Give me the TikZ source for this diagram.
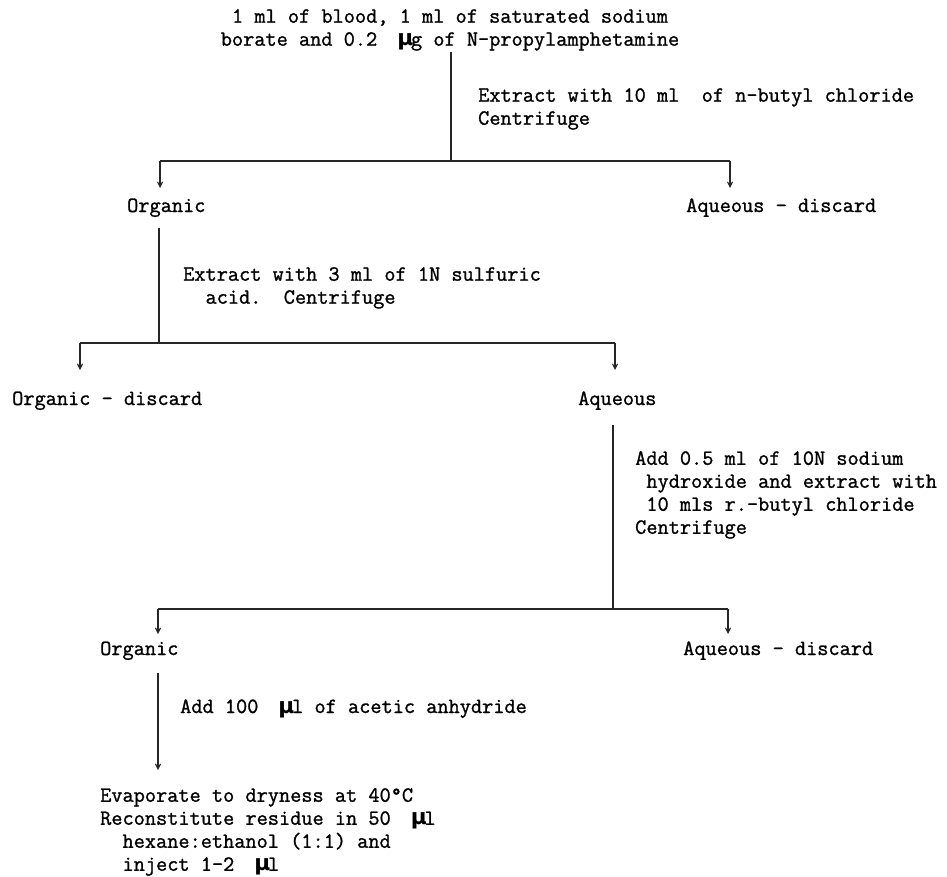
\documentclass[tikz,border=0pt]{standalone}
\usepackage{fontspec}
\setmonofont{Latin Modern Mono}[FakeBold=1.2]
\newfontfamily\mufont{DejaVu Sans}
\usetikzlibrary{arrows.meta}
\newcommand\mumu{\makebox[0.525em]{\mufont\bfseries μ}}
\begin{document}
\begin{tikzpicture}[x=1bp,y=-1bp,
  txt/.style={font=\fontsize{21.7bp}{23bp}\selectfont\ttfamily, inner sep=0pt, align=left},
  ln/.style={line width=1.1bp, black!85},
  arr/.style={ln, -{Straight Barb[length=5bp,width=5bp]}}]
\useasboundingbox (0,0) rectangle (947,877);
% texts
\node[txt, align=center, anchor=north] (top) at (450,9)
  {1 ml of blood, 1 ml of saturated sodium\\borate and 0.2\ \ \mumu g of N-propylamphetamine};
\node[txt, anchor=north west] (ex1) at (478,88)
  {Extract with 10 ml\ \ of n-butyl chloride\\Centrifuge};
\node[txt, anchor=base west] (org1) at (127,212) {Organic};
\node[txt, anchor=base west] (aq1) at (686,212) {Aqueous - discard};
\node[txt, anchor=north west] (ex2) at (183,267)
  {Extract with 3 ml of 1N sulfuric\\\phantom{xx}acid.\ \ Centrifuge};
\node[txt, anchor=base west] (orgd) at (12,405) {Organic - discard};
\node[txt, anchor=base west] (aq2) at (578,405) {Aqueous};
\node[txt, anchor=north west] (ex3) at (635,451)
  {Add 0.5 ml of 10N sodium\\\phantom{x}hydroxide and extract with\\\phantom{x}10 mls r.-butyl chloride\\Centrifuge};
\node[txt, anchor=base west] (org3) at (100,655) {Organic};
\node[txt, anchor=base west] (aq3) at (683,655) {Aqueous - discard};
\node[txt, anchor=base west] (ex4) at (180,713) {Add 100\ \ \mumu l of acetic anhydride};
\node[txt, anchor=north west] (fin) at (100,788)
  {Evaporate to dryness at 40°C\\Reconstitute residue in 50\ \ \mumu l\\\phantom{xx}hexane:ethanol (1:1) and\\\phantom{xx}inject 1-2\ \ \mumu l};
% connector points
\coordinate (v1a) at (451,52);  \coordinate (j1) at (451,161);
\coordinate (h1l) at (160,161); \coordinate (h1r) at (730,161);
\coordinate (t1l) at (160,188); \coordinate (t1r) at (730,188);
\coordinate (v2a) at (159,228); \coordinate (j2) at (159,343);
\coordinate (h2l) at (80,343);  \coordinate (h2r) at (615,343);
\coordinate (t2l) at (80,370);  \coordinate (t2r) at (615,370);
\coordinate (v3a) at (613,425); \coordinate (j3) at (613,609);
\coordinate (h3l) at (158,609); \coordinate (h3r) at (728,609);
\coordinate (t3l) at (158,634); \coordinate (t3r) at (728,634);
\coordinate (v4a) at (158,673); \coordinate (t4) at (158,770);
% connectors
\draw[ln] (v1a) -- (j1);
\draw[ln] (h1l) -- (h1r);
\draw[arr] (h1l) -- (t1l);
\draw[arr] (h1r) -- (t1r);
\draw[ln] (v2a) -- (j2);
\draw[ln] (h2l) -- (h2r);
\draw[arr] (h2l) -- (t2l);
\draw[arr] (h2r) -- (t2r);
\draw[ln] (v3a) -- (j3);
\draw[ln] (h3l) -- (h3r);
\draw[arr] (h3l) -- (t3l);
\draw[arr] (h3r) -- (t3r);
\draw[arr] (v4a) -- (t4);
\end{tikzpicture}
\end{document}
